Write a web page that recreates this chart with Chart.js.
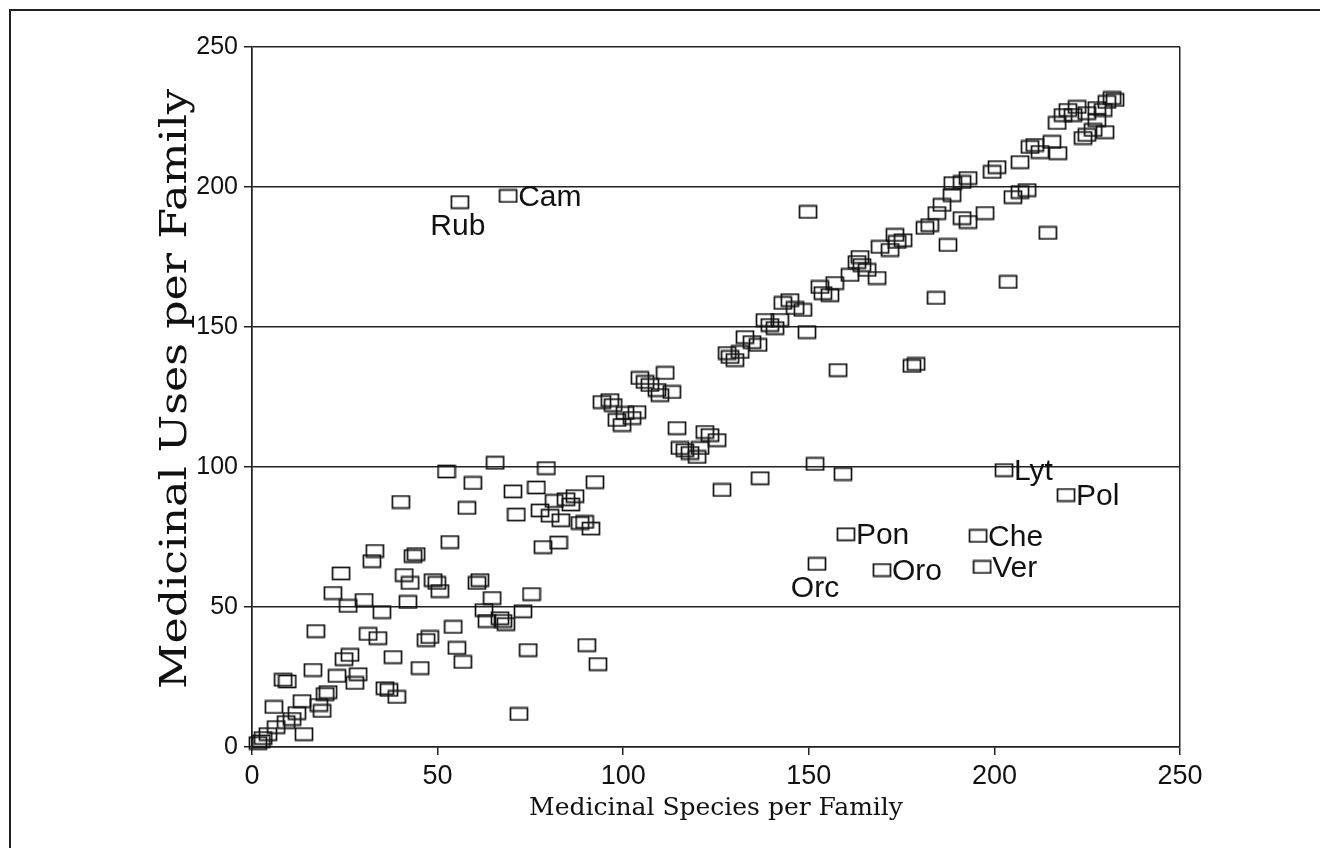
<!DOCTYPE html>
<html>
<head>
<meta charset="utf-8">
<script src="https://cdn.jsdelivr.net/npm/chart.js@4"></script>
<style>
  html, body { margin: 0; padding: 0; background: #fff; }
</style>
</head>
<body>
<canvas id="familyChart" width="1328" height="848"></canvas>
<script>
// medicinal species per family (x) and medicinal uses per family (y)
const speciesPerFamily = [
    1.6, 3, 4.3, 2.5, 5.9, 6.5, 8.4, 9.5, 9.2, 10.8, 12.1, 14, 13.5, 16.4, 17.2, 18, 18.9, 19.7, 20.5, 21.8,
    22.9, 24, 24.8, 25.9, 26.4, 27.7, 28.6, 30.2, 31.3, 32.3, 33.1, 33.9, 35, 35.8, 36.9, 38, 39, 40.1, 41, 42,
    42.6, 43.4, 44.2, 45.3, 46.9, 47.9, 48.8, 49.8, 50.6, 52.4, 53.3, 54.2, 55.2, 56.8, 57.9, 59.5, 60.6, 61.4, 62.5, 63.3,
    64.7, 65.5, 66.8, 67.6, 68.4, 70.3, 71.2, 71.9, 73, 74.4, 75.3, 76.6, 77.6, 78.4, 79.3, 80.3, 81.4, 82.6, 83.2, 84.6,
    85.9, 87, 88.4, 89.6, 90.2, 91.3, 92.4, 93.2,
    94.3, 96.4, 97.3, 98.3, 99.7, 100.5, 102.4, 103.7, 104.5, 105.9, 107.2, 109.1, 109.9, 111.3, 113.1, 114.5, 115.3, 116.6, 118, 119.9,
    120.7, 122, 123.4, 125.3, 126.6, 136.9,
    128, 128.8, 130.1, 131.5, 132.8, 134.7, 136.3, 138.2, 139.5, 140.9, 142.2, 143, 144.9, 146.3, 148.4, 149.5, 149.8, 151.7, 153, 153.8,
    155.7, 157, 157.9, 159.2, 161.1, 163, 163.8, 164.3, 165.7, 168.4, 169.2, 171.9, 173.2, 173.8, 175.4, 177.8, 178.9, 181.3, 182.6, 184.3,
    184.5, 185.9, 187.5, 188.6, 188.8, 191.3, 192.9, 191.3, 192.9, 197.5, 199.4, 200.7, 203.7, 205, 206.9, 206.9, 208.8, 209.6, 210.9, 212.3,
    214.4, 215.5, 216.9, 217.1, 218.5, 219.8, 221.2, 222.3, 223.9, 224.9, 224.9, 226.6, 227.6, 227.6, 229.3, 229.8, 230.3, 231.7, 232.5
];
const usesPerFamily = [
    1.4, 3.2, 4.6, 2, 14.3, 7.1, 24, 23.4, 8.9, 10, 12.1, 4.6, 16.4, 27.5, 41.4, 15, 12.9, 18.9, 19.6, 55,
    25.4, 62, 31.4, 50.4, 32.9, 22.9, 26, 52.5, 40.4, 66.4, 70, 38.9, 48.2, 21, 20.4, 32.1, 17.9, 87.5, 61.4, 51.8,
    58.6, 68.2, 68.9, 28.2, 38.2, 39.3, 59.6, 58.6, 55.7, 98.4, 73.2, 42.9, 35.4, 30.4, 85.4, 94.3, 58.6, 59.6, 48.9, 45,
    53.2, 101.5, 46, 45, 43.9, 91.3, 83, 11.8, 48.5, 34.6, 54.6, 92.7, 84.5, 71.4, 99.6, 82.6, 87.9, 73, 81, 88.5,
    86.6, 89.6, 80, 80.4, 36.4, 78, 94.6, 29.6,
    123.2, 123.9, 122.1, 116.8, 115, 119.3, 117.5, 119.6, 131.8, 130.4, 129.3, 127.5, 125.7, 133.6, 126.8, 113.9, 106.8, 106, 105, 103.6,
    106.8, 112.5, 111.4, 109.6, 91.8, 96,
    140.7, 139.3, 138.2, 141.1, 146.4, 144.6, 143.6, 152.5, 150.7, 149.6, 152.5, 158.6, 159.6, 156.8, 156.1, 148.2, 191.1, 101.1, 164.3, 162.1,
    161.4, 165.7, 134.6, 97.5, 168.6, 173.2, 175, 172.1, 170.4, 167.5, 178.6, 177.5, 182.9, 180.4, 181, 136.1, 136.8, 185.4, 186.4, 160.4,
    190.7, 193.6, 179.3, 197.1, 201.4, 201.8, 203.2, 188.9, 187.5, 190.7, 205.4, 207.1, 166.1, 196.4, 198.2, 208.9, 198.9, 214.3, 215, 212.5,
    183.6, 216.1, 222.9, 212.1, 225.7, 227.5, 225.7, 228.6, 217.5, 218.6, 226.4, 220.4, 223.9, 228.2, 227.5, 219.6, 230.4, 231.8, 231.1
];

// named families
const labelNames = ['Rub', 'Cam', 'Lyt', 'Pol', 'Pon', 'Che', 'Orc', 'Oro', 'Ver'];
const labelSpecies = [56, 69, 202.6, 219.3, 160, 195.6, 152.2, 169.7, 196.7];
const labelUses = [194.6, 196.8, 98.9, 90, 76, 75.4, 65.4, 63.2, 64.3];

const axisTicks = [0, 50, 100, 150, 200, 250];

// open rectangle marker
const box = document.createElement('canvas');
box.width = 20;
box.height = 15;
const bctx = box.getContext('2d');
bctx.strokeStyle = '#111';
bctx.lineWidth = 1.7;
bctx.strokeRect(1.5, 1.5, 17, 12);

const toPoints = (xs, ys) => xs.map((x, i) => ({ x: x, y: ys[i] }));

// labels drawn under the marker instead of to the right
const belowLabels = ['Rub', 'Orc'];

const familyLabels = {
    id: 'familyLabels',
    afterDatasetsDraw(chart) {
        const meta = chart.getDatasetMeta(1);
        const ctx = chart.ctx;
        ctx.save();
        ctx.fillStyle = '#111';
        ctx.font = '30px "Liberation Sans", Arial, sans-serif';
        ctx.textBaseline = 'middle';
        meta.data.forEach((pt, i) => {
            const name = labelNames[i];
            if (belowLabels.includes(name)) {
                ctx.textAlign = 'center';
                ctx.fillText(name, pt.x - 2, pt.y + 25);
            } else {
                ctx.textAlign = 'left';
                ctx.fillText(name, pt.x + 10, pt.y + 2);
            }
        });
        ctx.restore();
    }
};

// the y title in the original is a wide serif face, so stretch it along its length
const yTitle = {
    id: 'yTitle',
    afterDraw(chart) {
        const ctx = chart.ctx;
        const area = chart.chartArea;
        const text = 'Medicinal Uses per Family';
        ctx.save();
        ctx.font = '37px "DejaVu Serif", serif';
        ctx.fillStyle = '#111';
        ctx.textAlign = 'center';
        ctx.textBaseline = 'middle';
        const w = ctx.measureText(text).width;
        ctx.translate(176, (area.top + area.bottom) / 2 - 8);
        ctx.rotate(-Math.PI / 2);
        ctx.scale(600 / w, 1);
        ctx.fillText(text, 0, 0);
        ctx.restore();
    }
};

const pageFrame = {
    id: 'pageFrame',
    beforeDraw(chart) {
        const ctx = chart.ctx;
        ctx.save();
        ctx.fillStyle = '#fff';
        ctx.fillRect(0, 0, chart.width, chart.height);
        ctx.strokeStyle = '#222';
        ctx.lineWidth = 2;
        ctx.beginPath();
        ctx.moveTo(10, 848);
        ctx.lineTo(10, 10);
        ctx.lineTo(1320, 10);
        ctx.stroke();
        ctx.restore();
    }
};

const ctx = document.getElementById('familyChart').getContext('2d');

new Chart(ctx, {
    type: 'scatter',
    data: {
        datasets: [{
            label: 'Families',
            data: toPoints(speciesPerFamily, usesPerFamily),
            pointStyle: box,
            pointRadius: 5,
            clip: false
        }, {
            label: 'Named families',
            data: toPoints(labelSpecies, labelUses),
            pointStyle: box,
            pointRadius: 5,
            clip: false
        }]
    },
    options: {
        responsive: false,
        animation: false,
        events: [],
        layout: {
            padding: { left: 10, right: 148, top: 47, bottom: 10 }
        },
        plugins: {
            legend: { display: false },
            tooltip: { enabled: false }
        },
        scales: {
            x: {
                type: 'linear',
                min: 0,
                max: 250,
                afterBuildTicks: scale => { scale.ticks = axisTicks.map(v => ({ value: v })); },
                afterFit: scale => { scale.height = 91; },
                grid: {
                    color: c => (c.tick && (c.tick.value === 0 || c.tick.value === 250)) ? '#222' : 'transparent',
                    tickColor: '#222',
                    lineWidth: 1.5,
                    tickLength: 8
                },
                border: { color: '#222', width: 1.5 },
                ticks: {
                    color: '#111',
                    padding: 5,
                    maxRotation: 0,
                    autoSkip: false,
                    font: { family: '"Liberation Sans", Arial, sans-serif', size: 27 }
                },
                title: {
                    display: true,
                    text: 'Medicinal Species per Family',
                    color: '#111',
                    padding: { top: 0, bottom: 15 },
                    font: { family: '"DejaVu Serif", serif', size: 25 }
                }
            },
            y: {
                type: 'linear',
                min: 0,
                max: 250,
                afterBuildTicks: scale => { scale.ticks = axisTicks.map(v => ({ value: v })); },
                afterFit: scale => { scale.width = 242; },
                grid: {
                    color: '#222',
                    tickColor: '#222',
                    lineWidth: 1.5,
                    tickLength: 8
                },
                border: { color: '#222', width: 1.5 },
                ticks: {
                    color: '#111',
                    padding: 6,
                    font: { family: '"Liberation Sans", Arial, sans-serif', size: 25 }
                },
                title: { display: false }
            }
        }
    },
    plugins: [pageFrame, familyLabels, yTitle]
});
</script>
</body>
</html>
